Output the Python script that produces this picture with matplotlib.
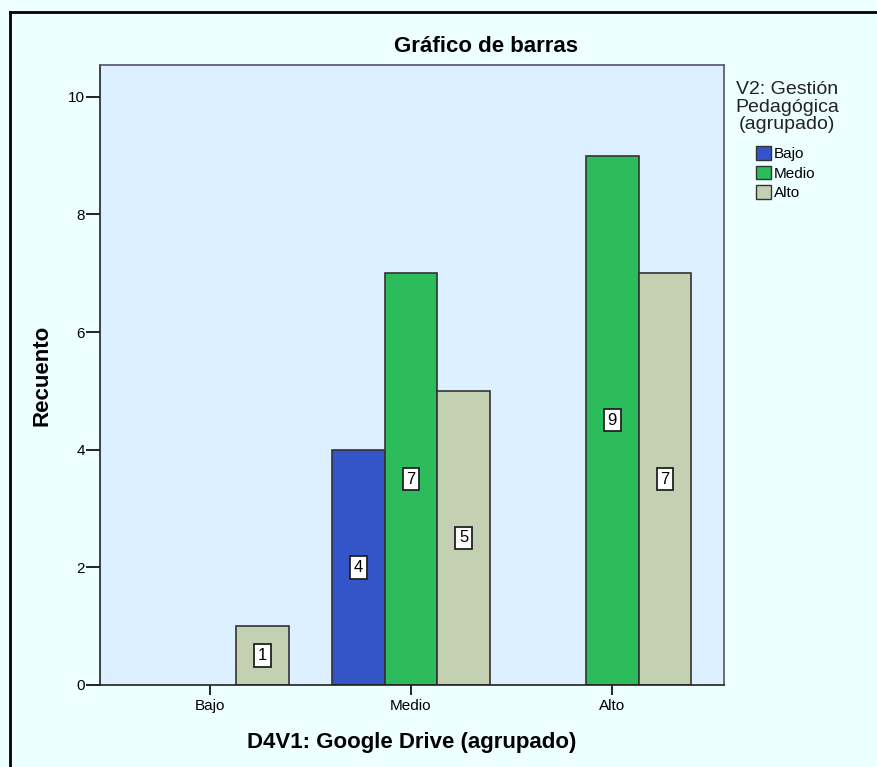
import numpy as np
import matplotlib.pyplot as plt
from matplotlib.patches import Patch
from matplotlib.lines import Line2D

plt.rcParams['font.family'] = ['Liberation Sans', 'DejaVu Sans']

categories = ['Bajo', 'Medio', 'Alto']
series_names = ['Bajo', 'Medio', 'Alto']
counts = {
    'Bajo': [0, 4, 0],
    'Medio': [0, 7, 9],
    'Alto': [1, 5, 7],
}
colors = {'Bajo': '#3355C8', 'Medio': '#2CBC5C', 'Alto': '#C4D0B2'}

W, H = 877, 767
fig = plt.figure(figsize=(W / 100, H / 100), dpi=100)
fig.patch.set_facecolor('#EEFFFF')

# outer frame (top and left edges only visible)
fig.add_artist(Line2D([10 / W, 10 / W], [0, 1 - 12 / H], color='black', lw=2))
fig.add_artist(Line2D([10 / W, 1], [1 - 12 / H, 1 - 12 / H], color='black', lw=2))

ax = fig.add_axes([100 / W, 1 - 685 / H, 624 / W, 620 / H])
ax.set_facecolor('#DDF0FF')

x = np.arange(len(categories))
bw = 0.262
offsets = {'Bajo': -bw, 'Medio': 0.0, 'Alto': bw}

for name in series_names:
    vals = np.array(counts[name])
    keep = vals > 0
    xs = x[keep] + offsets[name]
    ax.bar(xs, vals[keep], width=bw, color=colors[name], edgecolor='#333333',
           linewidth=1.2, zorder=2)
    for xi, v in zip(xs, vals[keep]):
        ax.text(xi, v / 2, str(v), ha='center', va='center', fontsize=12,
                zorder=3,
                bbox=dict(boxstyle='square,pad=0.22', fc='white', ec='#222222', lw=1.3))

ax.set_xlim(-0.545, 2.555)
ax.set_ylim(0, 10.54)
ax.set_xticks(x)
ax.set_xticklabels(categories, fontsize=11)
ax.set_yticks(np.arange(0, 11, 2))
ax.tick_params(axis='y', labelsize=11, length=10, width=1.2, direction='out', pad=1)
ax.tick_params(axis='x', length=7, width=1.2, direction='out', pad=3)
for sp in ax.spines.values():
    sp.set_color('#555566')
    sp.set_linewidth(1.2)
ax.spines['left'].set_color('#222222')
ax.spines['bottom'].set_color('#222222')

# SPSS centres the chart title over the whole chart frame
fig.text(486 / W, 1 - 46 / H, 'Gráfico de barras', ha='center', va='center',
         fontsize=16, fontweight='bold')
ax.set_ylabel('Recuento', fontsize=16, fontweight='bold', labelpad=11)
ax.set_xlabel('D4V1: Google Drive (agrupado)', fontsize=16, fontweight='bold', labelpad=14)

fig.text(787 / W, 1 - 107 / H, 'V2: Gestión\nPedagógica\n(agrupado)', ha='center',
         va='center', fontsize=14, color='#222222', linespacing=1.05)
handles = [Patch(facecolor=colors[n], edgecolor='#333333', label=n) for n in series_names]
fig.legend(handles=handles, loc='upper left', bbox_to_anchor=(756 / W, 1 - 146 / H),
           frameon=False, fontsize=11, handlelength=1.0, handleheight=1.0,
           handletextpad=0.15, labelspacing=0.3, borderaxespad=0, borderpad=0)

fig.savefig('out.png', dpi=100, facecolor=fig.get_facecolor())
